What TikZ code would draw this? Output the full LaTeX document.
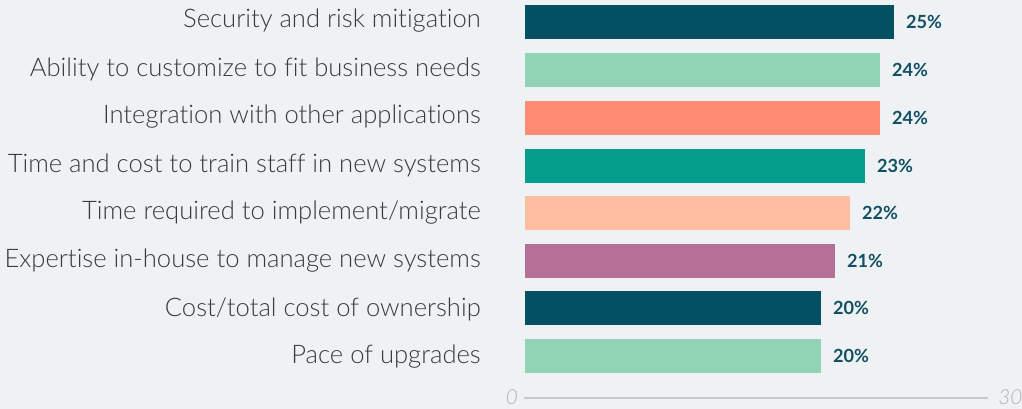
\documentclass[tikz,border=0pt]{standalone}
\usepackage{fontspec}
\setmainfont{Lato}[Ligatures=NoCommon]
\newfontfamily\lightfont[Ligatures=NoCommon]{Lato Light}
\definecolor{bg}{HTML}{EEF2F5}
\definecolor{cdark}{HTML}{035062}
\definecolor{cmint}{HTML}{90D3B5}
\definecolor{csalmon}{HTML}{FF8A72}
\definecolor{cteal}{HTML}{059E8A}
\definecolor{cpeach}{HTML}{FFBE9F}
\definecolor{cmauve}{HTML}{B47096}
\definecolor{ctext}{HTML}{3A3A3A}
\definecolor{cval}{HTML}{124F61}
\definecolor{caxis}{HTML}{C8C8C8}
\definecolor{caxtext}{HTML}{B0B4B8}
\begin{document}
\begin{tikzpicture}[x=0.75pt,y=-0.75pt,
  bar/.style={draw=none,inner sep=0pt,minimum height=25.5pt,anchor=west},
  cat/.style={anchor=east,inner sep=0pt,font=\lightfont\fontsize{19.2}{23}\selectfont,text=ctext},
  val/.style={anchor=west,inner sep=0pt,font=\bfseries\fontsize{13.6}{16}\selectfont,text=cval},
  axlab/.style={inner sep=0pt,font=\lightfont\itshape\fontsize{15.5}{18}\selectfont,text=caxtext}]
\fill[bg] (0,0) rectangle (1022,409);
\useasboundingbox (0,0) rectangle (1022,409);
% bars
\node[bar,fill=cdark,minimum width=276.75pt] (b1) at (525,22) {};
\node[bar,fill=cmint,minimum width=266.25pt] (b2) at (525,70) {};
\node[bar,fill=csalmon,minimum width=266.25pt] (b3) at (525,118) {};
\node[bar,fill=cteal,minimum width=255pt] (b4) at (525,166) {};
\node[bar,fill=cpeach,minimum width=243.75pt] (b5) at (525,213) {};
\node[bar,fill=cmauve,minimum width=232.5pt] (b6) at (525,261) {};
\node[bar,fill=cdark,minimum width=222pt] (b7) at (525,308) {};
\node[bar,fill=cmint,minimum width=222pt] (b8) at (525,356) {};
% category labels
\node[cat] (l1) at (481,21) {Security and risk mitigation};
\node[cat] (l2) at (481,69) {Ability to customize to fit business needs};
\node[cat] (l3) at (481,117) {Integration with other applications};
\node[cat] (l4) at (481,165) {Time and cost to train staff in new systems};
\node[cat] (l5) at (481,213) {Time required to implement/migrate};
\node[cat] (l6) at (481,261) {Expertise in-house to manage new systems};
\node[cat] (l7) at (481,309) {Cost/total cost of ownership};
\node[cat] (l8) at (481,357) {Pace of upgrades};
% values
\node[val] (v1) at ([xshift=8.5pt]b1.east) {25\%};
\node[val] (v2) at ([xshift=8.5pt]b2.east) {24\%};
\node[val] (v3) at ([xshift=8.5pt]b3.east) {24\%};
\node[val] (v4) at ([xshift=8.5pt]b4.east) {23\%};
\node[val] (v5) at ([xshift=8.5pt]b5.east) {22\%};
\node[val] (v6) at ([xshift=8.5pt]b6.east) {21\%};
\node[val] (v7) at ([xshift=8.5pt]b7.east) {20\%};
\node[val] (v8) at ([xshift=8.5pt]b8.east) {20\%};
% axis
\coordinate (a0) at (524,398);
\coordinate (a30) at (988,398);
\draw[caxis,line width=1.8pt] (a0) -- (a30);
\node[axlab,anchor=east] (t0) at (518,397) {0};
\node[axlab,anchor=west] (t30) at (998,397) {30};
\end{tikzpicture}
\end{document}
